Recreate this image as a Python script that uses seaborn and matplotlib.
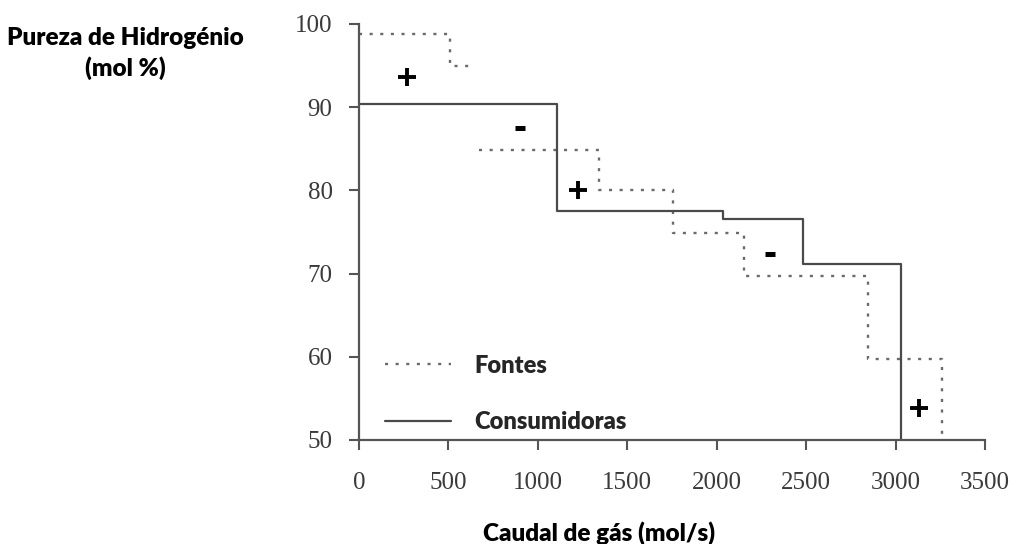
import matplotlib
matplotlib.use("Agg")
import matplotlib.pyplot as plt
from matplotlib.lines import Line2D
import seaborn as sns
import pandas as pd

# ---- data ----
fontes_caudal = [0, 510, 640, 670, 1341, 1755, 2152, 2845, 3258]
fontes_pureza = [98.8, 94.9, 94.9, 84.9, 80.0, 74.9, 69.7, 59.7, 50.0]
fontes_grupo = [1, 1, 1, 2, 2, 2, 2, 2, 2]

consum_caudal = [0, 1106, 2034, 2480, 3028]
consum_pureza = [90.4, 77.5, 76.6, 71.2, 50.0]

mais_caudal = [268, 1225, 3130]
mais_pureza = [93.6, 80.1, 53.8]
menos_caudal = [899, 2300]
menos_pureza = [87.5, 72.3]

x_ticks = [0, 500, 1000, 1500, 2000, 2500, 3000, 3500]
y_ticks = [50, 60, 70, 80, 90, 100]

sns.set_theme(style="white")
plt.rcParams["font.family"] = ["Lato", "DejaVu Sans"]

label_font = "Lato"
tick_font = "Liberation Serif"
axis_col = "#555555"

fig = plt.figure(figsize=(10.14, 5.44), dpi=100)
ax = fig.add_axes([0.354, 0.1912, 0.6174, 0.7647])

df_f = pd.DataFrame({"caudal": fontes_caudal, "pureza": fontes_pureza, "grupo": fontes_grupo})
df_c = pd.DataFrame({"caudal": consum_caudal, "pureza": consum_pureza})

sns.lineplot(data=df_f, x="caudal", y="pureza", units="grupo", estimator=None,
             drawstyle="steps-post", color="#6a6a6a", linewidth=1.7,
             linestyle=(0, (1.3, 3.2)), ax=ax, sort=False)
sns.lineplot(data=df_c, x="caudal", y="pureza", estimator=None,
             drawstyle="steps-post", color="#4a4a4a", linewidth=1.6, ax=ax, sort=False)

sns.scatterplot(x=mais_caudal, y=mais_pureza, marker="+", s=150, color="black",
                linewidth=2.8, ax=ax, zorder=5)
sns.scatterplot(x=menos_caudal, y=menos_pureza, marker="_", s=45, color="black",
                linewidth=3.6, ax=ax, zorder=5)

ax.set_xlim(0, 3500)
ax.set_ylim(50, 100)
ax.set_xticks(x_ticks)
ax.set_yticks(y_ticks)
ax.set_xticklabels([str(v) for v in x_ticks])
ax.set_yticklabels([str(v) for v in y_ticks])
for lab in ax.get_xticklabels() + ax.get_yticklabels():
    lab.set_fontfamily(tick_font)
    lab.set_fontsize(18)
    lab.set_color("#3a3a3a")
ax.tick_params(axis="x", direction="out", length=7, width=1.5, color=axis_col, pad=16, bottom=True)
ax.tick_params(axis="y", direction="out", length=7, width=1.5, color=axis_col, pad=12, left=True)

for side in ["top", "right"]:
    ax.spines[side].set_visible(False)
for side in ["left", "bottom"]:
    ax.spines[side].set_color(axis_col)
    ax.spines[side].set_linewidth(1.6)

ax.set_xlabel("")
ax.set_ylabel("")

fig.text(0.1233, 0.9017, "Pureza de Hidrogénio\n(mol %)", ha="center", va="center",
         fontsize=17.5, fontweight="heavy", family=label_font, linespacing=1.35, color="black")
fig.text(0.5903, 0.0202, "Caudal de gás (mol/s)", ha="center", va="center",
         fontsize=17.5, fontweight="heavy", family=label_font, color="black")

handles = [Line2D([], [], color="#6a6a6a", linewidth=1.7, linestyle=(0, (1.3, 3.2))),
           Line2D([], [], color="#4a4a4a", linewidth=1.6)]
leg = ax.legend(handles, ["Fontes", "Consumidoras"], loc="upper left",
                bbox_to_anchor=(0.0415, 0.205), frameon=False, borderpad=0,
                borderaxespad=0, handlelength=2.8, handletextpad=1.0,
                labelspacing=1.45, prop={"family": label_font, "weight": "heavy", "size": 17})

fig.savefig("out.png", dpi=100)
